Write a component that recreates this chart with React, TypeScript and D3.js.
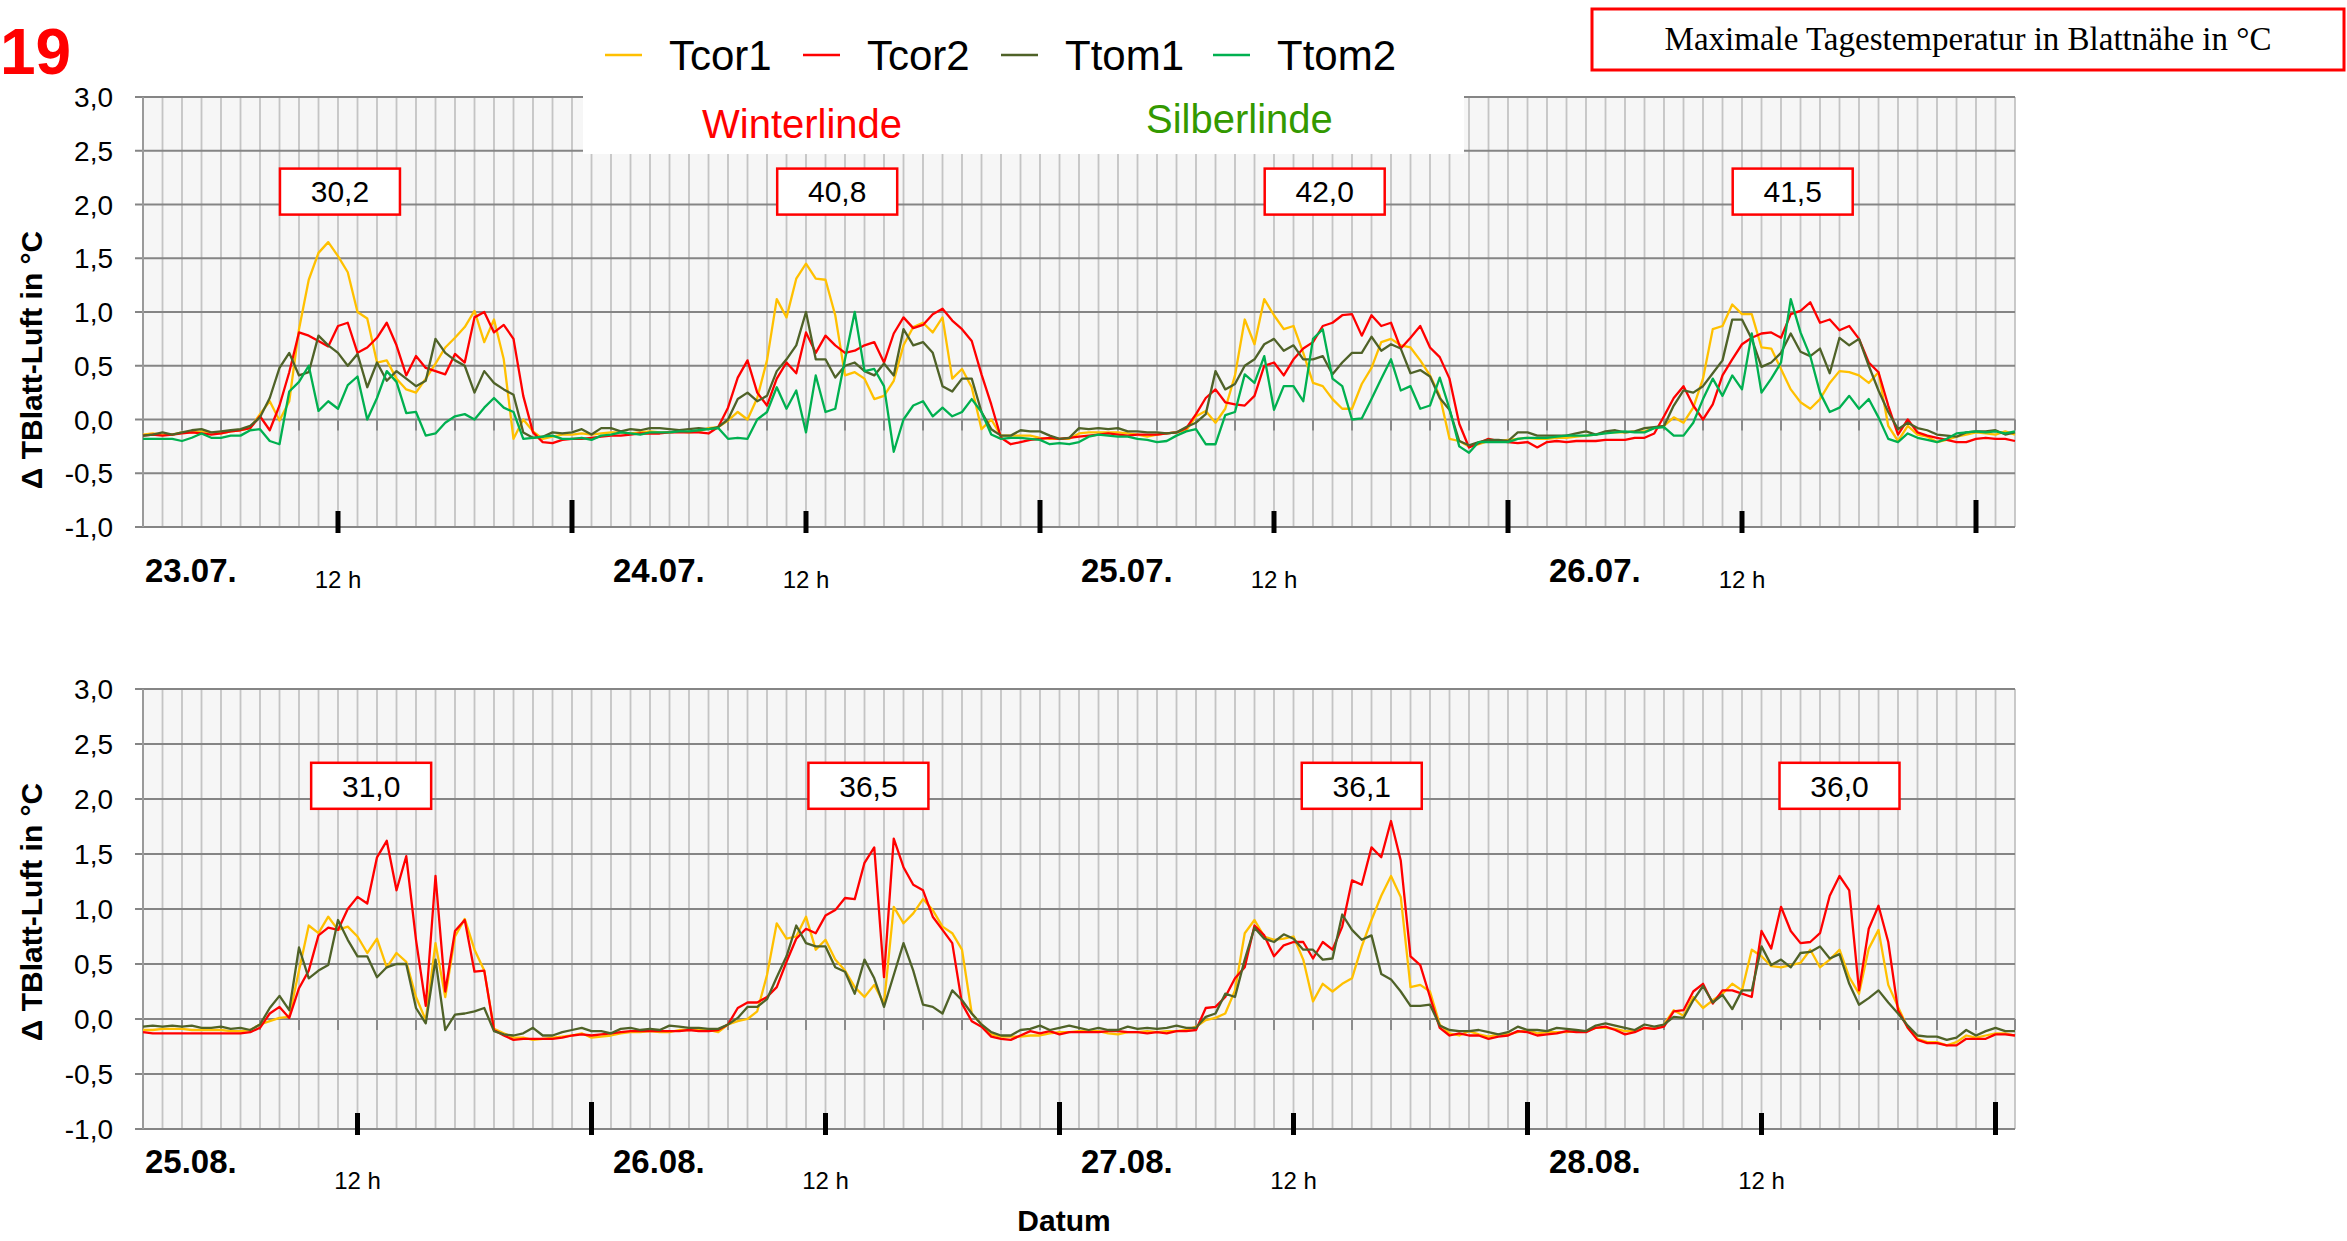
import React from 'react';
import * as d3 from 'd3';

// ΔT leaf-air, half-hour samples. top panel starts at 02:00 of 23.07., bottom at 01:00 of 25.08.
const step = 0.5;
const topStart = 2;
const botStart = 1;

const topTcor1 = [
  -0.14, -0.13, -0.14, -0.14, -0.12, -0.12, -0.11, -0.12, -0.13, -0.11, -0.10, -0.08,
  0.05, 0.17, -0.01, 0.17, 0.84, 1.30, 1.55, 1.65, 1.52, 1.37, 1.00, 0.94,
  0.53, 0.55, 0.38, 0.28, 0.25, 0.38, 0.52, 0.67, 0.76, 0.86, 1.01, 0.72,
  0.93, 0.56, -0.18, 0.00, -0.11, -0.18, -0.16, -0.14, -0.14, -0.13, -0.14, -0.13,
  -0.12, -0.12, -0.13, -0.12, -0.11, -0.12, -0.12, -0.11, -0.12, -0.11, -0.08, -0.07,
  -0.01, 0.07, 0.00, 0.20, 0.55, 1.12, 0.95, 1.31, 1.45, 1.31, 1.30, 0.97,
  0.41, 0.44, 0.38, 0.19, 0.22, 0.36, 0.69, 0.86, 0.90, 0.81, 0.95, 0.38,
  0.47, 0.30, -0.09, 0.00, -0.15, -0.15, -0.15, -0.15, -0.17, -0.18, -0.18, -0.18,
  -0.13, -0.12, -0.12, -0.12, -0.12, -0.13, -0.14, -0.16, -0.14, -0.13, -0.12, -0.10,
  0.03, 0.08, -0.03, 0.10, 0.41, 0.93, 0.70, 1.12, 0.97, 0.84, 0.87, 0.62,
  0.34, 0.31, 0.19, 0.10, 0.10, 0.33, 0.48, 0.72, 0.75, 0.69, 0.67, 0.55,
  0.41, 0.22, -0.18, -0.20, -0.25, -0.23, -0.20, -0.20, -0.19, -0.18, -0.17, -0.18,
  -0.18, -0.17, -0.17, -0.16, -0.15, -0.14, -0.12, -0.12, -0.12, -0.11, -0.11, -0.08,
  -0.06, 0.02, -0.03, 0.11, 0.38, 0.84, 0.87, 1.07, 0.98, 0.98, 0.67, 0.66,
  0.47, 0.28, 0.16, 0.10, 0.19, 0.34, 0.45, 0.44, 0.41, 0.34, 0.44, -0.06,
  -0.20, -0.06, -0.14, -0.16, -0.21, -0.19, -0.16, -0.14, -0.12, -0.13, -0.14, -0.11,
  -0.14,
];

const topTcor2 = [
  -0.15, -0.14, -0.15, -0.14, -0.13, -0.12, -0.13, -0.14, -0.13, -0.11, -0.10, -0.08,
  0.03, -0.10, 0.13, 0.44, 0.81, 0.78, 0.73, 0.68, 0.87, 0.90, 0.62, 0.67,
  0.76, 0.90, 0.69, 0.41, 0.59, 0.48, 0.45, 0.42, 0.61, 0.53, 0.95, 1.00,
  0.81, 0.88, 0.75, 0.22, -0.12, -0.21, -0.22, -0.19, -0.18, -0.18, -0.17, -0.16,
  -0.15, -0.15, -0.14, -0.13, -0.13, -0.13, -0.12, -0.12, -0.12, -0.12, -0.13, -0.07,
  0.11, 0.39, 0.55, 0.25, 0.13, 0.38, 0.53, 0.43, 0.81, 0.62, 0.78, 0.69,
  0.62, 0.64, 0.69, 0.72, 0.53, 0.80, 0.95, 0.85, 0.88, 0.98, 1.03, 0.92,
  0.84, 0.73, 0.42, 0.14, -0.17, -0.23, -0.21, -0.19, -0.18, -0.17, -0.18, -0.17,
  -0.16, -0.15, -0.14, -0.13, -0.14, -0.15, -0.14, -0.14, -0.14, -0.13, -0.12, -0.08,
  0.05, 0.20, 0.28, 0.16, 0.14, 0.13, 0.22, 0.50, 0.53, 0.41, 0.56, 0.66,
  0.72, 0.87, 0.90, 0.97, 0.98, 0.78, 0.97, 0.87, 0.90, 0.66, 0.76, 0.87,
  0.67, 0.58, 0.38, -0.04, -0.26, -0.22, -0.18, -0.20, -0.21, -0.22, -0.21, -0.26,
  -0.21, -0.20, -0.21, -0.20, -0.20, -0.20, -0.19, -0.19, -0.19, -0.17, -0.17, -0.13,
  0.03, 0.20, 0.31, 0.13, 0.00, 0.14, 0.41, 0.56, 0.70, 0.76, 0.80, 0.81,
  0.76, 0.98, 1.01, 1.09, 0.90, 0.93, 0.83, 0.87, 0.75, 0.53, 0.44, 0.13,
  -0.14, 0.00, -0.12, -0.15, -0.17, -0.19, -0.21, -0.21, -0.18, -0.17, -0.18, -0.18,
  -0.20,
];

const topTtom1 = [
  -0.15, -0.14, -0.12, -0.14, -0.12, -0.10, -0.09, -0.12, -0.11, -0.10, -0.09, -0.06,
  0.02, 0.20, 0.48, 0.62, 0.41, 0.44, 0.78, 0.69, 0.62, 0.50, 0.61, 0.30,
  0.53, 0.36, 0.45, 0.38, 0.31, 0.36, 0.75, 0.62, 0.55, 0.50, 0.25, 0.45,
  0.34, 0.28, 0.23, -0.12, -0.17, -0.16, -0.12, -0.13, -0.12, -0.09, -0.14, -0.08,
  -0.08, -0.11, -0.09, -0.10, -0.08, -0.08, -0.09, -0.10, -0.09, -0.08, -0.09, -0.07,
  0.00, 0.19, 0.25, 0.17, 0.22, 0.45, 0.56, 0.69, 1.00, 0.56, 0.56, 0.39,
  0.50, 0.53, 0.45, 0.41, 0.52, 0.41, 0.84, 0.69, 0.72, 0.62, 0.31, 0.26,
  0.38, 0.38, 0.07, -0.09, -0.15, -0.15, -0.10, -0.11, -0.11, -0.15, -0.18, -0.17,
  -0.08, -0.09, -0.08, -0.09, -0.08, -0.11, -0.11, -0.12, -0.12, -0.13, -0.12, -0.07,
  -0.03, 0.05, 0.45, 0.28, 0.33, 0.50, 0.56, 0.70, 0.75, 0.64, 0.69, 0.56,
  0.56, 0.59, 0.42, 0.53, 0.62, 0.62, 0.77, 0.64, 0.70, 0.66, 0.43, 0.46,
  0.40, 0.20, 0.09, -0.20, -0.24, -0.21, -0.19, -0.19, -0.20, -0.12, -0.12, -0.15,
  -0.15, -0.15, -0.15, -0.13, -0.11, -0.14, -0.11, -0.10, -0.12, -0.11, -0.08, -0.07,
  -0.06, 0.13, 0.27, 0.25, 0.31, 0.43, 0.55, 0.93, 0.93, 0.75, 0.49, 0.53,
  0.62, 0.80, 0.63, 0.59, 0.66, 0.43, 0.76, 0.69, 0.75, 0.50, 0.27, 0.07,
  -0.09, -0.03, -0.08, -0.10, -0.14, -0.15, -0.16, -0.12, -0.11, -0.11, -0.10, -0.14,
  -0.12,
];

const topTtom2 = [
  -0.18, -0.18, -0.18, -0.18, -0.20, -0.17, -0.13, -0.17, -0.17, -0.15, -0.15, -0.10,
  -0.09, -0.20, -0.23, 0.26, 0.35, 0.50, 0.08, 0.17, 0.10, 0.32, 0.40, 0.00,
  0.20, 0.45, 0.35, 0.06, 0.07, -0.15, -0.13, -0.03, 0.03, 0.05, 0.00, 0.11,
  0.20, 0.11, 0.07, -0.18, -0.17, -0.16, -0.15, -0.18, -0.18, -0.17, -0.19, -0.15,
  -0.14, -0.12, -0.13, -0.14, -0.12, -0.12, -0.12, -0.11, -0.11, -0.10, -0.09, -0.08,
  -0.18, -0.17, -0.18, 0.00, 0.07, 0.30, 0.10, 0.27, -0.12, 0.41, 0.07, 0.10,
  0.56, 1.00, 0.45, 0.47, 0.31, -0.30, 0.00, 0.13, 0.17, 0.03, 0.11, 0.03,
  0.07, 0.19, 0.07, -0.14, -0.18, -0.17, -0.17, -0.18, -0.19, -0.23, -0.22, -0.23,
  -0.21, -0.16, -0.14, -0.15, -0.16, -0.16, -0.18, -0.19, -0.21, -0.20, -0.15, -0.11,
  -0.09, -0.23, -0.23, 0.04, 0.07, 0.42, 0.34, 0.59, 0.09, 0.31, 0.31, 0.17,
  0.75, 0.84, 0.38, 0.31, 0.00, 0.01, 0.19, 0.38, 0.56, 0.27, 0.31, 0.10,
  0.13, 0.39, 0.10, -0.25, -0.31, -0.21, -0.21, -0.21, -0.21, -0.18, -0.17, -0.17,
  -0.17, -0.16, -0.15, -0.15, -0.15, -0.14, -0.13, -0.12, -0.11, -0.12, -0.12, -0.08,
  -0.07, -0.15, -0.15, -0.03, 0.19, 0.38, 0.22, 0.41, 0.28, 0.80, 0.25, 0.38,
  0.53, 1.12, 0.81, 0.59, 0.25, 0.07, 0.11, 0.22, 0.10, 0.19, 0.02, -0.18,
  -0.21, -0.13, -0.17, -0.19, -0.21, -0.18, -0.13, -0.12, -0.11, -0.12, -0.11, -0.13,
  -0.11,
];

const botTcor1 = [
  -0.10, -0.10, -0.09, -0.09, -0.09, -0.10, -0.10, -0.10, -0.10, -0.11, -0.11, -0.10,
  -0.05, -0.02, 0.01, 0.02, 0.44, 0.85, 0.78, 0.93, 0.81, 0.84, 0.75, 0.60,
  0.73, 0.47, 0.60, 0.52, 0.20, -0.01, 0.69, 0.20, 0.75, 0.91, 0.63, 0.44,
  -0.09, -0.13, -0.17, -0.17, -0.19, -0.18, -0.17, -0.16, -0.15, -0.13, -0.17, -0.16,
  -0.15, -0.13, -0.12, -0.12, -0.11, -0.12, -0.12, -0.10, -0.10, -0.09, -0.10, -0.12,
  -0.05, -0.02, 0.00, 0.07, 0.40, 0.87, 0.73, 0.75, 0.93, 0.63, 0.72, 0.54,
  0.44, 0.29, 0.20, 0.31, 0.14, 1.02, 0.87, 0.96, 1.09, 0.99, 0.84, 0.78,
  0.63, 0.05, -0.05, -0.14, -0.16, -0.16, -0.16, -0.15, -0.15, -0.13, -0.12, -0.12,
  -0.11, -0.11, -0.11, -0.13, -0.14, -0.12, -0.12, -0.11, -0.12, -0.11, -0.11, -0.10,
  -0.07, -0.01, 0.01, 0.05, 0.26, 0.78, 0.90, 0.75, 0.72, 0.73, 0.75, 0.54,
  0.16, 0.32, 0.25, 0.32, 0.37, 0.66, 0.90, 1.12, 1.30, 1.11, 0.29, 0.31,
  0.25, -0.05, -0.13, -0.15, -0.11, -0.14, -0.16, -0.14, -0.14, -0.12, -0.10, -0.13,
  -0.12, -0.12, -0.12, -0.11, -0.11, -0.08, -0.08, -0.09, -0.11, -0.11, -0.08, -0.09,
  -0.05, 0.08, 0.03, 0.20, 0.10, 0.17, 0.23, 0.32, 0.26, 0.63, 0.57, 0.48,
  0.47, 0.49, 0.51, 0.63, 0.47, 0.54, 0.63, 0.38, 0.23, 0.64, 0.81, 0.31,
  0.11, -0.08, -0.18, -0.21, -0.21, -0.24, -0.21, -0.15, -0.17, -0.15, -0.13, -0.13,
  -0.15,
];

const botTcor2 = [
  -0.12, -0.13, -0.13, -0.13, -0.13, -0.13, -0.13, -0.13, -0.13, -0.13, -0.13, -0.12,
  -0.08, 0.05, 0.11, 0.01, 0.28, 0.44, 0.76, 0.83, 0.81, 1.00, 1.11, 1.05,
  1.47, 1.62, 1.17, 1.48, 0.72, 0.12, 1.30, 0.25, 0.80, 0.90, 0.43, 0.44,
  -0.10, -0.15, -0.19, -0.18, -0.18, -0.18, -0.18, -0.17, -0.15, -0.14, -0.15, -0.14,
  -0.13, -0.12, -0.11, -0.11, -0.11, -0.11, -0.11, -0.11, -0.10, -0.11, -0.11, -0.10,
  -0.05, 0.10, 0.15, 0.15, 0.20, 0.29, 0.52, 0.73, 0.82, 0.78, 0.94, 0.99,
  1.10, 1.09, 1.42, 1.56, 0.38, 1.64, 1.38, 1.22, 1.17, 0.93, 0.81, 0.69,
  0.14, -0.02, -0.07, -0.16, -0.18, -0.19, -0.15, -0.11, -0.13, -0.11, -0.14, -0.12,
  -0.12, -0.12, -0.12, -0.11, -0.11, -0.12, -0.12, -0.13, -0.12, -0.13, -0.11, -0.11,
  -0.10, 0.10, 0.11, 0.20, 0.37, 0.47, 0.85, 0.76, 0.57, 0.67, 0.70, 0.70,
  0.55, 0.70, 0.63, 0.84, 1.26, 1.22, 1.56, 1.47, 1.80, 1.44, 0.57, 0.49,
  0.20, -0.08, -0.15, -0.13, -0.15, -0.15, -0.18, -0.16, -0.15, -0.11, -0.12, -0.15,
  -0.14, -0.13, -0.11, -0.12, -0.12, -0.08, -0.07, -0.10, -0.14, -0.12, -0.08, -0.09,
  -0.07, 0.07, 0.08, 0.25, 0.32, 0.14, 0.26, 0.26, 0.23, 0.20, 0.80, 0.64,
  1.02, 0.80, 0.69, 0.70, 0.78, 1.12, 1.30, 1.17, 0.26, 0.82, 1.03, 0.70,
  0.08, -0.08, -0.19, -0.22, -0.22, -0.24, -0.24, -0.18, -0.18, -0.18, -0.14, -0.14,
  -0.15,
];

const botTtom1 = [
  -0.07, -0.06, -0.07, -0.06, -0.07, -0.06, -0.08, -0.08, -0.07, -0.09, -0.08, -0.10,
  -0.05, 0.10, 0.21, 0.08, 0.65, 0.37, 0.44, 0.49, 0.90, 0.72, 0.57, 0.57,
  0.38, 0.47, 0.50, 0.50, 0.10, -0.04, 0.54, -0.10, 0.04, 0.05, 0.07, 0.10,
  -0.11, -0.14, -0.15, -0.13, -0.08, -0.15, -0.15, -0.12, -0.10, -0.08, -0.11, -0.11,
  -0.13, -0.09, -0.08, -0.10, -0.09, -0.10, -0.06, -0.07, -0.08, -0.08, -0.09, -0.09,
  -0.05, 0.01, 0.11, 0.11, 0.18, 0.38, 0.57, 0.85, 0.69, 0.66, 0.66, 0.47,
  0.43, 0.23, 0.54, 0.37, 0.11, 0.40, 0.69, 0.44, 0.13, 0.11, 0.05, 0.26,
  0.17, 0.05, -0.05, -0.12, -0.15, -0.15, -0.10, -0.09, -0.06, -0.10, -0.08, -0.06,
  -0.08, -0.10, -0.08, -0.10, -0.10, -0.07, -0.09, -0.08, -0.09, -0.08, -0.06, -0.08,
  -0.08, 0.02, 0.05, 0.23, 0.20, 0.54, 0.83, 0.73, 0.70, 0.77, 0.73, 0.63,
  0.63, 0.54, 0.55, 0.95, 0.81, 0.72, 0.76, 0.41, 0.36, 0.25, 0.12, 0.12,
  0.13, -0.06, -0.10, -0.11, -0.11, -0.10, -0.12, -0.14, -0.12, -0.07, -0.10, -0.10,
  -0.11, -0.08, -0.09, -0.10, -0.11, -0.06, -0.04, -0.06, -0.08, -0.10, -0.05, -0.07,
  -0.05, 0.02, 0.01, 0.17, 0.30, 0.15, 0.22, 0.09, 0.26, 0.26, 0.66, 0.49,
  0.54, 0.47, 0.60, 0.61, 0.66, 0.55, 0.59, 0.32, 0.13, 0.19, 0.26, 0.15,
  0.05, -0.06, -0.15, -0.16, -0.16, -0.19, -0.17, -0.10, -0.15, -0.11, -0.08, -0.11,
  -0.11,
];

const seriesNames = ['Tcor1', 'Tcor2', 'Ttom1', 'Ttom2'];
const seriesColors = ['#FFC000', '#FF0000', '#4F6228', '#00B050'];

const topDays = ['23.07.', '24.07.', '25.07.', '26.07.'];
const botDays = ['25.08.', '26.08.', '27.08.', '28.08.'];
const topMaxLabels = ['30,2', '40,8', '42,0', '41,5'];
const topMaxHours = [12.1, 37.6, 62.6, 86.6];
const botMaxLabels = ['31,0', '36,5', '36,1', '36,0'];
const botMaxHours = [12.7, 38.2, 63.5, 88.0];
const yTicks = [3, 2.5, 2, 1.5, 1, 0.5, 0, -0.5, -1];

const sans = 'Liberation Sans, Arial, sans-serif';
const left = 143;
const right = 2015;

function Panel(props) {
  const { top, bottom, start, series, days, maxLabels, maxHours, dayDy, hourDy, titleY } = props;
  const x = d3.scaleLinear().domain([start, start + 96]).range([left, right]);
  const y = d3.scaleLinear().domain([-1, 3]).range([bottom, top]);
  const line = d3.line().x((d, i) => x(start + i * step)).y(d => y(d));
  const hours = d3.range(start, start + 96.01, 1);
  const axisTicks = d3.range(start, start + 96.01, 2);

  return (
    <g>
      <rect x={left} y={top} width={right - left} height={bottom - top} fill="#f6f6f6" />
      {hours.map(h => (
        <line key={'v' + h} x1={x(h)} x2={x(h)} y1={top} y2={bottom} stroke="#c4c4c4" strokeWidth={1.8} />
      ))}
      {yTicks.map(t => (
        <line key={'h' + t} x1={left - 8} x2={right} y1={y(t)} y2={y(t)} stroke="#858585" strokeWidth={2} />
      ))}
      <line x1={left} x2={left} y1={top} y2={bottom} stroke="#9a9a9a" strokeWidth={2} />
      {axisTicks.map(h => (
        <line key={'t' + h} x1={x(h)} x2={x(h)} y1={y(0)} y2={y(0) + 11} stroke="#8c8c8c" strokeWidth={2} />
      ))}
      {yTicks.map(t => (
        <text key={'l' + t} x={left - 30} y={y(t)} dy="0.36em" textAnchor="end" fontFamily={sans} fontSize={28} fill="#000">
          {t.toFixed(1).replace('.', ',')}
        </text>
      ))}
      {series.map((s, i) => (
        <path key={'s' + i} d={line(s) || ''} fill="none" stroke={seriesColors[i]} strokeWidth={2.3} strokeLinejoin="round" />
      ))}
      {days.map((d, i) => (
        <g key={'d' + i}>
          <line x1={x(i * 24 + 12)} x2={x(i * 24 + 12)} y1={bottom - 16} y2={bottom + 6} stroke="#000" strokeWidth={5} />
          <line x1={x(i * 24 + 24)} x2={x(i * 24 + 24)} y1={bottom - 27} y2={bottom + 6} stroke="#000" strokeWidth={5} />
          <text x={x(start + i * 24) + 2} y={bottom + dayDy} fontFamily={sans} fontWeight="bold" fontSize={33}>{d}</text>
          <text x={x(i * 24 + 12)} y={bottom + hourDy} textAnchor="middle" fontFamily={sans} fontSize={24}>12 h</text>
        </g>
      ))}
      {maxLabels.map((m, i) => (
        <g key={'m' + i}>
          <rect x={x(maxHours[i]) - 60} y={y(2.12) - 23} width={120} height={46} fill="#fff" stroke="#ff0000" strokeWidth={2.5} />
          <text x={x(maxHours[i])} y={y(2.12)} dy="0.36em" textAnchor="middle" fontFamily={sans} fontSize={30}>{m}</text>
        </g>
      ))}
      <text transform={`translate(42,${titleY}) rotate(-90)`} textAnchor="middle" fontFamily={sans} fontWeight="bold" fontSize={30}>
        Δ TBlatt-Luft in °C
      </text>
    </g>
  );
}

export default function App() {
  const legendX = [605, 803, 1001, 1213];
  return (
    <svg width={2347} height={1241} style={{ position: 'absolute', left: 0, top: 0, background: '#fff' }}>
      <Panel top={97} bottom={527} start={topStart} series={[topTcor1, topTcor2, topTtom1, topTtom2]}
        days={topDays} maxLabels={topMaxLabels} maxHours={topMaxHours} dayDy={55} hourDy={61} titleY={360} />
      <Panel top={689} bottom={1129} start={botStart} series={[botTcor1, botTcor2, botTtom1]}
        days={botDays} maxLabels={botMaxLabels} maxHours={botMaxHours} dayDy={44} hourDy={60} titleY={912} />

      <text x={0} y={74} fontFamily={sans} fontWeight="bold" fontSize={64} fill="#ff0000">19</text>

      <rect x={583} y={0} width={881} height={154} fill="#fff" />
      {seriesNames.map((n, i) => (
        <g key={n}>
          <line x1={legendX[i]} x2={legendX[i] + 37} y1={55} y2={55} stroke={seriesColors[i]} strokeWidth={2.5} />
          <text x={legendX[i] + 64} y={70} fontFamily={sans} fontSize={42}>{n}</text>
        </g>
      ))}
      <text x={702} y={138} fontFamily={sans} fontSize={40} fill="#ff0000">Winterlinde</text>
      <text x={1146} y={133} fontFamily={sans} fontSize={40} fill="#339900">Silberlinde</text>

      <rect x={1592} y={9} width={752} height={61} fill="#fff" stroke="#ff0000" strokeWidth={3} />
      <text x={1968} y={50} textAnchor="middle" fontFamily="Liberation Serif, Times New Roman, serif" fontSize={33}>
        Maximale Tagestemperatur in Blattnähe in °C
      </text>

      <text x={1064} y={1231} textAnchor="middle" fontFamily={sans} fontWeight="bold" fontSize={30}>Datum</text>
    </svg>
  );
}
